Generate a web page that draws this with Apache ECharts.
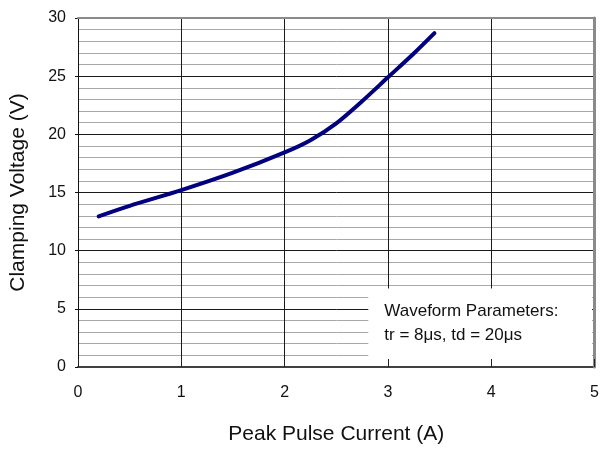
<!DOCTYPE html>
<html>
<head>
<meta charset="utf-8">
<script src="https://cdn.jsdelivr.net/npm/echarts@6/dist/echarts.min.js"></script>
<style>
html,body{margin:0;padding:0;background:#fff;}
#c{width:602px;height:450px;}
</style>
</head>
<body>
<div id="c"></div>
<script>
// Data
var currentA = [0.2, 0.5, 1.0, 1.5, 2.0, 2.25, 2.5, 2.75, 3.0, 3.25, 3.45];
var clampV   = [12.95, 13.85, 15.2, 16.7, 18.45, 19.5, 20.95, 22.85, 24.9, 26.95, 28.7];
var xTicks = [0, 1, 2, 3, 4, 5];
var yTicks = [0, 5, 10, 15, 20, 25, 30];
var noteLines = ["Waveform Parameters:", "tr = 8\u03bcs, td = 20\u03bcs"];
var noteBoxX = [2.81, 4.975];
var noteBoxY = [0.15, 6.75];

var FONT = '"Liberation Sans", Arial, sans-serif';
var points = currentA.map(function (x, i) { return [x, clampV[i]]; });

var chart = echarts.init(document.getElementById('c'), null, { renderer: 'canvas' });
chart.setOption({
  animation: false,
  backgroundColor: '#fff',
  grid: { left: 78, right: 7, top: 18, bottom: 80, containLabel: false },
  xAxis: [{
    type: 'value', min: xTicks[0], max: xTicks[xTicks.length - 1], interval: 1,
    name: 'Peak Pulse Current (A)', nameLocation: 'middle', nameGap: 57,
    nameTextStyle: { fontFamily: FONT, fontSize: 21, color: '#111' },
    axisLine: { show: true, onZero: false, lineStyle: { color: '#404040', width: 2 } },
    axisTick: { show: false },
    axisLabel: { fontFamily: FONT, fontSize: 16, color: '#111', margin: 18 },
    splitLine: { show: true, lineStyle: { color: '#1a1a1a', width: 1 } },
    z: 0
  }, {
    type: 'value', position: 'top', min: xTicks[0], max: xTicks[xTicks.length - 1], interval: 1,
    axisLine: { show: true, onZero: false, lineStyle: { color: '#8a8a8a', width: 2 } },
    axisTick: { show: false },
    axisLabel: { show: false },
    splitLine: { show: false },
    z: 5
  }, {
    type: 'value', position: 'bottom', min: xTicks[0], max: xTicks[xTicks.length - 1], interval: 1,
    axisLine: { show: false },
    axisTick: { show: true, inside: true, length: 8, lineStyle: { color: '#222', width: 1 } },
    axisLabel: { show: false },
    splitLine: { show: false },
    z: 5
  }],
  yAxis: [{
    type: 'value', min: yTicks[0], max: yTicks[yTicks.length - 1], interval: 5,
    name: 'Clamping Voltage (V)', nameLocation: 'middle', nameGap: 49,
    nameTextStyle: { fontFamily: FONT, fontSize: 21, color: '#111' },
    axisLine: { show: true, onZero: false, lineStyle: { color: '#111', width: 1 } },
    axisTick: { show: true, length: 3, lineStyle: { color: '#111' } },
    axisLabel: { fontFamily: FONT, fontSize: 16, color: '#111', margin: 12 },
    splitLine: { show: true, lineStyle: { color: '#1a1a1a', width: 1 } },
    minorTick: { show: false, splitNumber: 5 },
    minorSplitLine: { show: true, lineStyle: { color: '#a8a8a8', width: 1 } },
    z: 0
  }, {
    type: 'value', position: 'right', min: yTicks[0], max: yTicks[yTicks.length - 1], interval: 5,
    axisLine: { show: true, onZero: false, lineStyle: { color: '#8a8a8a', width: 3 } },
    axisTick: { show: false },
    axisLabel: { show: false },
    splitLine: { show: false },
    z: 5
  }],
  series: [{
    type: 'line',
    data: points,
    smooth: 0.3,
    showSymbol: false,
    symbol: 'none',
    lineStyle: { color: '#000080', width: 4, cap: 'round', join: 'round' },
    z: 3,
    markArea: {
      silent: true,
      itemStyle: { color: '#ffffff', opacity: 1, borderWidth: 0 },
      label: {
        show: true,
        position: 'insideTopLeft',
        distance: 0,
        padding: [11, 0, 0, 16],
        fontFamily: FONT, fontSize: 17, color: '#111', lineHeight: 24,
        formatter: noteLines.join('\n')
      },
      data: [[{ coord: [noteBoxX[0], noteBoxY[1]] }, { coord: [noteBoxX[1], noteBoxY[0]] }]]
    }
  }]
});
</script>
</body>
</html>
